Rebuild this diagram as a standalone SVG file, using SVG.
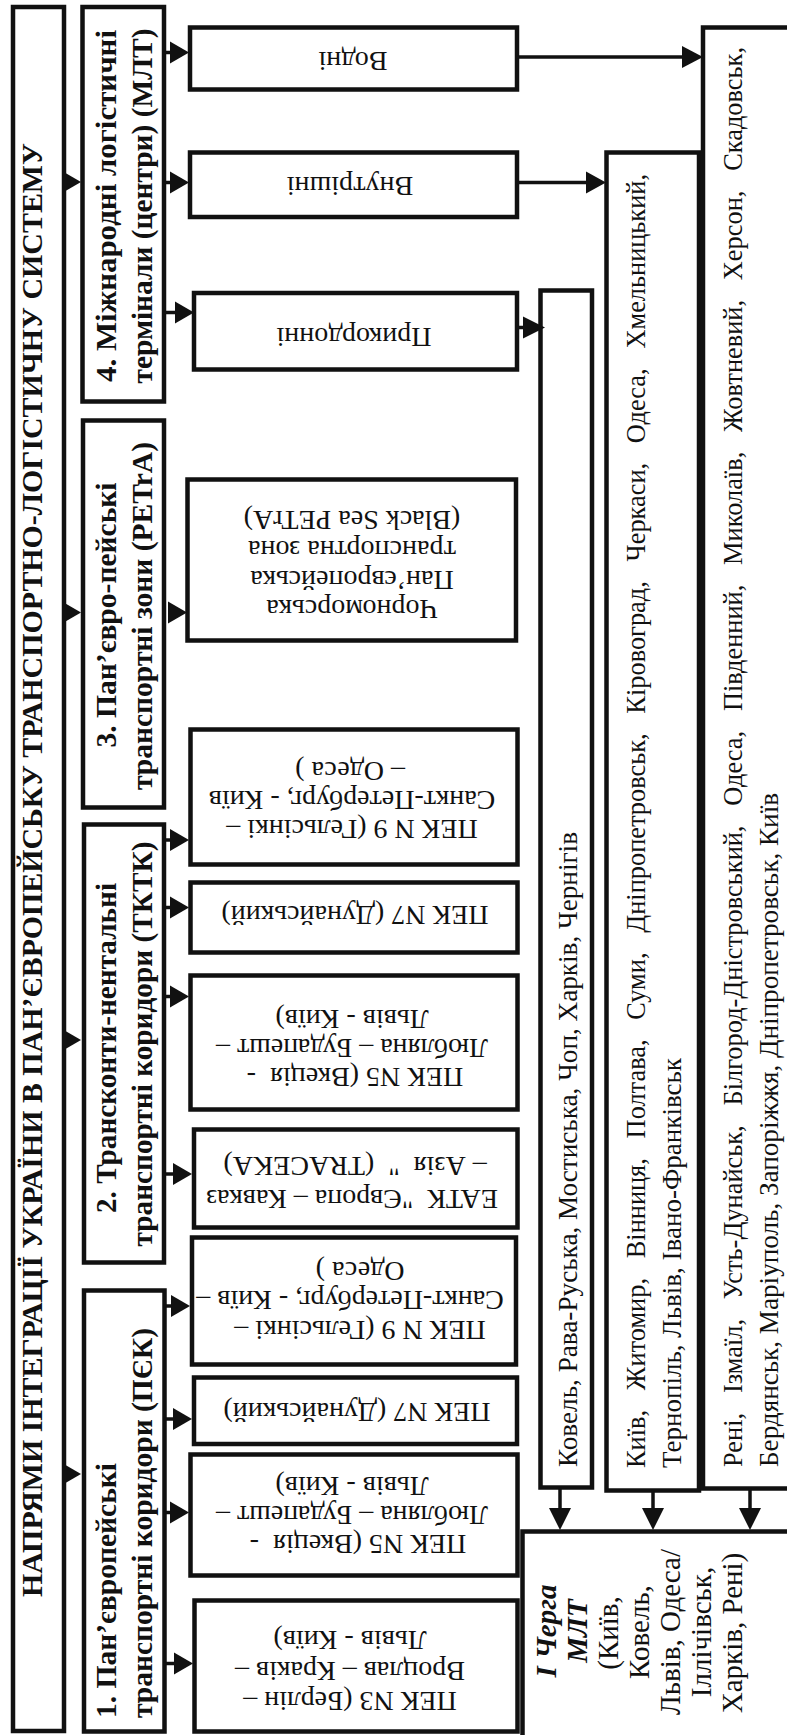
<svg xmlns="http://www.w3.org/2000/svg" width="787" height="1735" viewBox="0 0 787 1735">
<style>
.box{fill:#fff;stroke:#111;stroke-width:4.5}
.ln{stroke:#111;stroke-width:3.5;fill:none}
.ah{fill:#111;stroke:none}
.t{font-family:"Liberation Serif","Times New Roman",serif;fill:#111}
.bi{font-weight:bold;font-style:italic}
.ttl{font-size:30px;font-weight:bold;text-anchor:middle}
.cat{font-size:30px;font-weight:bold}
.in{font-size:28px;text-anchor:middle}
.city{font-size:28px;text-anchor:start}
.mlt{font-size:29px;text-anchor:middle}
</style>
<rect x="0" y="0" width="787" height="1735" fill="#fff"/>

<g id="title">
<rect class="box" x="13" y="7" width="51" height="1724"/>
<text class="t ttl" transform="translate(42,870) rotate(-90)" textLength="1454" lengthAdjust="spacingAndGlyphs">НАПРЯМИ ІНТЕГРАЦІЇ УКРАЇНИ В ПАН’ЄВРОПЕЙСЬКУ ТРАНСПОРТНО-ЛОГІСТИЧНУ СИСТЕМУ</text>
</g>

<g id="cat4">
<rect class="box" x="82.5" y="7" width="81.5" height="394.5"/>
<text class="t cat" text-anchor="middle" transform="translate(116,206) rotate(-90)" textLength="352" lengthAdjust="spacingAndGlyphs">4. Міжнародні логістичні</text>
<text class="t cat" text-anchor="middle" transform="translate(152,206) rotate(-90)" textLength="355" lengthAdjust="spacingAndGlyphs">термінали (центри) (МЛТ)</text>
</g>
<g id="cat3">
<rect class="box" x="83" y="420.5" width="81" height="387"/>
<text class="t cat" text-anchor="middle" transform="translate(116,615) rotate(-90)" textLength="265" lengthAdjust="spacingAndGlyphs">3. Пан’євро-пейські</text>
<text class="t cat" text-anchor="middle" transform="translate(152,616) rotate(-90)" textLength="348" lengthAdjust="spacingAndGlyphs">транспортні зони (PETrA)</text>
</g>
<g id="cat2">
<rect class="box" x="84" y="824.5" width="80" height="438"/>
<text class="t cat" text-anchor="middle" transform="translate(116,1048) rotate(-90)" textLength="330" lengthAdjust="spacingAndGlyphs">2. Трансконти-нентальні</text>
<text class="t cat" text-anchor="middle" transform="translate(152,1044) rotate(-90)" textLength="405" lengthAdjust="spacingAndGlyphs">транспортні коридори (ТКТК)</text>
</g>
<g id="cat1">
<rect class="box" x="84" y="1290.5" width="80.5" height="441"/>
<text class="t cat" text-anchor="start" transform="translate(116,1718) rotate(-90)" textLength="255" lengthAdjust="spacingAndGlyphs">1. Пан’європейські</text>
<text class="t cat" text-anchor="start" transform="translate(152,1718) rotate(-90)" textLength="390" lengthAdjust="spacingAndGlyphs">транспортні коридори (ПЄК)</text>
</g>

<g id="vodni">
<rect class="box" x="190" y="27.5" width="327" height="62"/>
<text class="t in" transform="translate(353,61) rotate(180)" y="9">Водні</text>
</g>
<g id="vnutrishni">
<rect class="box" x="190" y="152.5" width="327" height="64.5"/>
<text class="t in" transform="translate(350,186) rotate(180)" y="9">Внутрішні</text>
</g>
<g id="prykordonni">
<rect class="box" x="194" y="293" width="323" height="76.5"/>
<text class="t in" transform="translate(354,337) rotate(180)" y="9">Прикордонні</text>
</g>
<g id="blacksea">
<rect class="box" x="187.5" y="479.5" width="328.5" height="161"/>
<text class="t in" transform="translate(352,609) rotate(180)" y="9">Чорноморська</text>
<text class="t in" transform="translate(352,580) rotate(180)" y="9">Пан’європейська</text>
<text class="t in" transform="translate(352,550) rotate(180)" y="9">транспортна зона</text>
<text class="t in" transform="translate(352,520) rotate(180)" y="9">(Black Sea PETrA)</text>
</g>

<g id="tktk-pek9">
<rect class="box" x="190.5" y="729.5" width="327" height="135"/>
<text class="t in" transform="translate(352,829) rotate(180)" y="9">ПЕК N 9 (Гельсінкі –</text>
<text class="t in" transform="translate(352,800) rotate(180)" y="9">Санкт-Петербург, - Київ</text>
<text class="t in" transform="translate(350,771) rotate(180)" y="9">– Одеса )</text>
</g>
<g id="tktk-pek7">
<rect class="box" x="190.5" y="882.5" width="327" height="70"/>
<text class="t in" transform="translate(355,915) rotate(180)" y="9">ПЕК N7 (Дунайський)</text>
</g>
<g id="tktk-pek5">
<rect class="box" x="190.5" y="975.5" width="327" height="134"/>
<text class="t in" transform="translate(355,1077) rotate(180)" y="9">ПЕК N5 (Вкеція &#160;-</text>
<text class="t in" transform="translate(352,1048) rotate(180)" y="9">Любляна – Будапешт –</text>
<text class="t in" transform="translate(352,1019) rotate(180)" y="9">Львів - Київ)</text>
</g>
<g id="eatk">
<rect class="box" x="194" y="1129.5" width="323.5" height="98"/>
<text class="t in" transform="translate(352,1199) rotate(180)" y="9">ЕАТК &#160;"Європа – Кавказ</text>
<text class="t in" transform="translate(355,1166) rotate(180)" y="9">– Азія &#160;" &#160;(TRACEKA)</text>
</g>

<g id="pek-pek9">
<rect class="box" x="192" y="1237.5" width="324" height="127"/>
<text class="t in" transform="translate(360,1330) rotate(180)" y="9">ПЕК N 9 (Гельсінкі –</text>
<text class="t in" transform="translate(350,1300) rotate(180)" y="9">Санкт-Петербург, - Київ –</text>
<text class="t in" transform="translate(360,1271) rotate(180)" y="9">Одеса )</text>
</g>
<g id="pek-pek7">
<rect class="box" x="194" y="1377.5" width="323" height="66.5"/>
<text class="t in" transform="translate(357,1412) rotate(180)" y="9">ПЕК N7 (Дунайський)</text>
</g>
<g id="pek-pek5">
<rect class="box" x="190.5" y="1454.5" width="327" height="121"/>
<text class="t in" transform="translate(358,1544) rotate(180)" y="9">ПЕК N5 (Вкеція &#160;-</text>
<text class="t in" transform="translate(352,1515) rotate(180)" y="9">Любляна – Будапешт –</text>
<text class="t in" transform="translate(352,1486) rotate(180)" y="9">Львів - Київ)</text>
</g>
<g id="pek-pek3">
<rect class="box" x="194.5" y="1600.5" width="323" height="131"/>
<text class="t in" transform="translate(350,1701) rotate(180)" y="9">ПЕК N3 (Берлін –</text>
<text class="t in" transform="translate(350,1671) rotate(180)" y="9">Вроцлав – Краків –</text>
<text class="t in" transform="translate(350,1640) rotate(180)" y="9">Львів - Київ)</text>
</g>

<g id="border-cities">
<rect class="box" x="540.5" y="290.5" width="51.5" height="1197"/>
<text class="t city" transform="translate(577,1467) rotate(-90)" textLength="635" lengthAdjust="spacingAndGlyphs">Ковель, Рава-Руська, Мостиська, Чоп, Харків, Чернігів</text>
</g>
<g id="inland-cities">
<rect class="box" x="606.5" y="152.5" width="92.5" height="1338"/>
<text class="t city" transform="translate(645,1468) rotate(-90)" textLength="1294" lengthAdjust="spacingAndGlyphs">Київ, &#160;&#160;Житомир, &#160;&#160;Вінниця, &#160;&#160;Полтава, &#160;&#160;Суми, &#160;&#160;Дніпропетровськ, &#160;&#160;Кіровоград, &#160;&#160;Черкаси, &#160;&#160;Одеса, &#160;&#160;Хмельницький,</text>
<text class="t city" transform="translate(681,1468) rotate(-90)" textLength="410" lengthAdjust="spacingAndGlyphs">Тернопіль, Львів, Івано-Франківськ</text>
</g>
<g id="water-cities">
<rect class="box" x="703" y="27.5" width="110" height="1461"/>
<text class="t city" transform="translate(742,1467) rotate(-90)" textLength="1420" lengthAdjust="spacingAndGlyphs">Рені, &#160;&#160;Ізмаїл, &#160;&#160;Усть-Дунайськ, &#160;&#160;Білгород-Дністровський, &#160;&#160;Одеса, &#160;&#160;Південний, &#160;&#160;Миколаїв, &#160;&#160;Жовтневий, &#160;&#160;Херсон, &#160;&#160;Скадовськ,</text>
<text class="t city" transform="translate(778,1467) rotate(-90)" textLength="674" lengthAdjust="spacingAndGlyphs">Бердянськ, Маріуполь, Запоріжжя, Дніпропетровськ, Київ</text>
</g>

<g id="first-stage">
<rect class="box" x="522.5" y="1531.5" width="290" height="220"/>
<text class="t mlt bi" transform="translate(556,1631) rotate(-90)">І Черга</text>
<text class="t mlt bi" transform="translate(587,1631) rotate(-90)">МЛТ</text>
<text class="t mlt" transform="translate(618,1633) rotate(-90)">(Київ,</text>
<text class="t mlt" transform="translate(649,1632) rotate(-90)">Ковель,</text>
<text class="t mlt" transform="translate(680,1632) rotate(-90)">Львів, Одеса/</text>
<text class="t mlt" transform="translate(711,1632) rotate(-90)">Іллічівськ,</text>
<text class="t mlt" transform="translate(742,1633) rotate(-90)">Харків, Рені)</text>
</g>

<g id="connectors">
<polygon class="ah" points="62,171 81,182 62,193"/>
<polygon class="ah" points="62,601.5 81,612.5 62,623.5"/>
<polygon class="ah" points="62,1029 81,1040 62,1051"/>
<polygon class="ah" points="62,1463 81,1474 62,1485"/>

<line class="ln" x1="164" y1="52.5" x2="171" y2="52.5"/>
<polygon class="ah" points="170,41.5 189,52.5 170,63.5"/>
<line class="ln" x1="164" y1="182.5" x2="171" y2="182.5"/>
<polygon class="ah" points="170,171.5 189,182.5 170,193.5"/>
<line class="ln" x1="164" y1="312.5" x2="176" y2="312.5"/>
<polygon class="ah" points="175,301.5 194,312.5 175,323.5"/>

<polygon class="ah" points="168,601.5 187,612.5 168,623.5"/>

<line class="ln" x1="164" y1="840" x2="171" y2="840"/>
<polygon class="ah" points="170,829 189,840 170,851"/>
<line class="ln" x1="164" y1="907.5" x2="171" y2="907.5"/>
<polygon class="ah" points="170,896.5 189,907.5 170,918.5"/>
<line class="ln" x1="164" y1="996.5" x2="171" y2="996.5"/>
<polygon class="ah" points="170,985.5 189,996.5 170,1007.5"/>
<line class="ln" x1="164" y1="1174" x2="173" y2="1174"/>
<polygon class="ah" points="173,1163 192,1174 173,1185"/>

<line class="ln" x1="164" y1="1306" x2="172" y2="1306"/>
<polygon class="ah" points="171,1295 190,1306 171,1317"/>
<line class="ln" x1="164" y1="1419" x2="173" y2="1419"/>
<polygon class="ah" points="173,1408 192,1419 173,1430"/>
<line class="ln" x1="164" y1="1512.5" x2="171" y2="1512.5"/>
<polygon class="ah" points="170,1501.5 189,1512.5 170,1523.5"/>
<line class="ln" x1="164" y1="1663.5" x2="174" y2="1663.5"/>
<polygon class="ah" points="174,1652.5 193,1663.5 174,1674.5"/>

<line class="ln" x1="517" y1="57" x2="684" y2="57"/>
<polygon class="ah" points="682,46 703,57 682,68"/>
<line class="ln" x1="517" y1="182.5" x2="587" y2="182.5"/>
<polygon class="ah" points="586,171.5 606,182.5 586,193.5"/>
<line class="ln" x1="517" y1="327.5" x2="524" y2="327.5"/>
<polygon class="ah" points="523,316.5 545,327.5 523,338.5"/>

<line class="ln" x1="560" y1="1488" x2="560" y2="1509"/>
<polygon class="ah" points="549,1508 571,1508 560,1530"/>
<line class="ln" x1="653" y1="1490" x2="653" y2="1509"/>
<polygon class="ah" points="642,1508 664,1508 653,1530"/>
<line class="ln" x1="750" y1="1488" x2="750" y2="1509"/>
<polygon class="ah" points="739,1508 761,1508 750,1530"/>
</g>
</svg>
